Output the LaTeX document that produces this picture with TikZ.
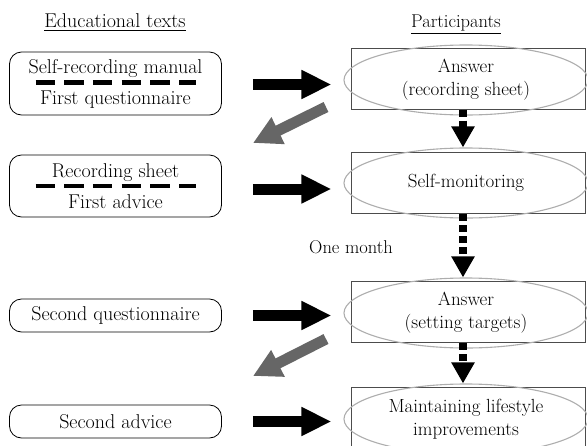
\documentclass[tikz,border=0pt]{standalone}
\usepackage{amsmath}
\usepackage{tikz}
\usetikzlibrary{arrows.meta,shapes.geometric,calc}
\definecolor{gray}{rgb}{0.5,0.5,0.5}
\definecolor{darkgray}{rgb}{0.40,0.40,0.40}
\definecolor{lightgray}{rgb}{0.68,0.68,0.68}
\definecolor{boxgray}{rgb}{0.30,0.30,0.30}

\tikzset{
  textbox/.style={draw, rounded corners=12pt, minimum width=212pt, align=center,
    line width=0.8pt, font=\fontsize{20}{31}\selectfont},
  partbox/.style={draw=boxgray, line width=1pt, minimum width=234pt, minimum height=61pt},
  partell/.style={ellipse, draw=lightgray, line width=1.1pt, minimum width=244pt,
    minimum height=70pt, inner sep=0pt, align=center, font=\fontsize{19}{23}\selectfont},
  sepline/.style={line width=4.5pt, dash pattern=on 19.3pt off 9.4pt},
  blockarrow/.style={line width=11pt, -{Triangle[length=30pt,width=27pt]}},
  backarrow/.style={darkgray, line width=11pt, -{Triangle[length=28pt,width=28pt]}},
  dotarrow/.style={line width=8pt, dash pattern=on 7pt off 4pt, -{Triangle[length=21pt,width=22pt]}}
}

\begin{document}
\begin{tikzpicture}[x=1pt,y=-1pt]
\useasboundingbox (0,0) rectangle (587,445);

\node[anchor=base, font=\fontsize{20}{24}\selectfont] (hleft) at (115,27) {\underline{Educational texts}};
\node[anchor=base, font=\fontsize{18.5}{22}\selectfont] (hright) at (456,27) {\underline{Participants}};

\node[textbox, minimum height=63pt] (t1) at (115.5,83.5) {Self-recording manual\\First questionnaire};
\node[textbox, minimum height=62pt] (t2) at (115.5,186) {Recording sheet\\First advice};
\node[textbox, minimum height=33pt] (t3) at (115.5,315.5) {Second questionnaire};
\node[textbox, minimum height=33pt] (t4) at (115.5,421.5) {Second advice};

\draw[sepline] ([xshift=-80pt,yshift=1pt]t1.center) -- ([xshift=80.5pt,yshift=1pt]t1.center);
\draw[sepline] ([xshift=-80pt]t2.center) -- ([xshift=80.5pt]t2.center);

\node[partbox] (p1) at (468,78.5) {};
\node[partbox] (p2) at (468,183) {};
\node[partbox] (p3) at (468,312) {};
\node[partbox, minimum height=64pt] (p4) at (468,419) {};

\node[partell] (e1) at (466,80) {Answer\\(recording sheet)};
\node[partell] (e2) at (466,183) {Self-monitoring};
\node[partell] (e3) at (466,313) {Answer\\(setting targets)};
\node[partell] (e4) at (466,419) {Maintaining lifestyle\\improvements};

\draw[blockarrow, shorten <=31pt, shorten >=12pt] ([yshift=-1pt]t1.east) -- ([yshift=-1pt]t1.east -| e1.west);
\draw[blockarrow, shorten <=31pt, shorten >=12pt] ([yshift=-3pt]t2.east) -- ([yshift=-3pt]t2.east -| e2.west);
\draw[blockarrow, shorten <=31pt, shorten >=12pt] (t3.east) -- (t3.east -| e3.west);
\draw[blockarrow, shorten <=31pt, shorten >=12pt] (t4.east) -- (t4.east -| e4.west);

\coordinate (g1a) at (326,107);
\coordinate (g1b) at (253,143);
\coordinate (g2a) at (326,339);
\coordinate (g2b) at (253,376);
\draw[backarrow] (g1a) -- (g1b);
\draw[backarrow] (g2a) -- (g2b);

\draw[dotarrow] ([xshift=-5pt]p1.south) -- ([xshift=-3pt]e2.north);
\draw[dotarrow] ([xshift=-5pt]p2.south) -- ([xshift=-3pt]e3.north);
\draw[dotarrow] ([xshift=-5pt]p3.south) -- ([xshift=-3pt]e4.north);

\node[font=\fontsize{18.5}{22}\selectfont] (month) at (351,247) {One month};
\end{tikzpicture}
\end{document}
